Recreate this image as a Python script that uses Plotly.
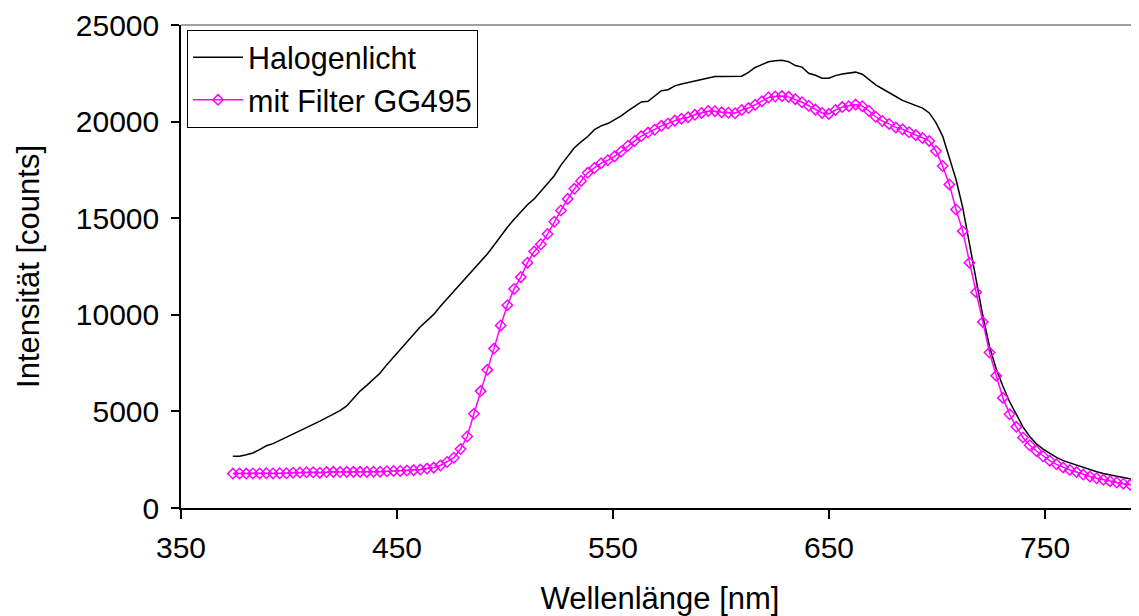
import plotly.graph_objects as go

wavelength = [
    374.0, 377.1, 380.2, 383.3, 386.4, 389.5, 392.6, 395.7, 398.8, 401.9,
    405.0, 408.1, 411.2, 414.3, 417.4, 420.5, 423.6, 426.7, 429.8, 432.9,
    436.0, 439.1, 442.2, 445.3, 448.4, 451.5, 454.6, 457.7, 460.8, 463.9,
    467.0, 470.1, 473.2, 476.3, 479.4, 482.5, 485.6, 488.7, 491.8, 494.9,
    498.0, 501.1, 504.2, 507.3, 510.4, 513.5, 516.6, 519.7, 522.8, 525.9,
    529.0, 532.1, 535.2, 538.3, 541.4, 544.5, 547.6, 550.7, 553.8, 556.9,
    560.0, 563.1, 566.2, 569.3, 572.4, 575.5, 578.6, 581.7, 584.8, 587.9,
    591.0, 594.1, 597.2, 600.3, 603.4, 606.5, 609.6, 612.7, 615.8, 618.9,
    622.0, 625.1, 628.2, 631.3, 634.4, 637.5, 640.6, 643.7, 646.8, 649.9,
    653.0, 656.1, 659.2, 662.3, 665.4, 668.5, 671.6, 674.7, 677.8, 680.9,
    684.0, 687.1, 690.2, 693.3, 696.4, 699.5, 702.6, 705.7, 708.8, 711.9,
    715.0, 718.1, 721.2, 724.3, 727.4, 730.5, 733.6, 736.7, 739.8, 742.9,
    746.0, 749.1, 752.2, 755.3, 758.4, 761.5, 764.6, 767.7, 770.8, 773.9,
    777.0, 780.1, 783.2, 786.3, 789.4, 792.5,
]

halogen = [
    2680, 2680, 2760, 2850, 3020, 3220, 3330, 3490, 3650, 3810,
    3980, 4160, 4330, 4500, 4670, 4850, 5040, 5280, 5650, 6050,
    6350, 6680, 6990, 7420, 7810, 8200, 8580, 8960, 9380, 9700,
    10020, 10440, 10830, 11220, 11600, 11950, 12370, 12770, 13150, 13600,
    14080, 14530, 14950, 15350, 15700, 16000, 16400, 16800, 17200, 17750,
    18200, 18650, 18950, 19230, 19580, 19780, 19900, 20080, 20300, 20550,
    20800, 21020, 21050, 21350, 21600, 21650, 21850, 21950, 22030, 22100,
    22180, 22260, 22330, 22330, 22330, 22330, 22350, 22550, 22800, 22950,
    23100, 23150, 23180, 23100, 22900, 22820, 22500, 22400, 22250, 22250,
    22380, 22460, 22500, 22560, 22450, 22150, 21900, 21700, 21480, 21300,
    21100, 20980, 20860, 20700, 20450, 19950, 19250, 18150, 17000, 15550,
    13700, 11800, 9950, 8350, 7200, 6300, 5500, 4850, 4200, 3700,
    3320, 3050, 2820, 2620, 2450, 2330, 2200, 2090, 1980, 1880,
    1790, 1700, 1640, 1580, 1500, 1440,
]

filter_gg495 = [
    1780, 1790, 1780, 1790, 1790, 1800, 1790, 1800, 1800, 1830,
    1840, 1850, 1850, 1830, 1860, 1870, 1860, 1870, 1870, 1870,
    1870, 1880, 1880, 1900, 1920, 1920, 1940, 1960, 1990, 2040,
    2090, 2200, 2380, 2600, 3050, 3700, 4880, 6050, 7150, 8250,
    9450, 10500, 11340, 11950, 12700, 13280, 13650, 14180, 14820, 15400,
    16000, 16520, 16930, 17350, 17600, 17850, 18000, 18200, 18450, 18750,
    19000, 19250, 19430, 19580, 19780, 19900, 20050, 20150, 20230, 20350,
    20450, 20550, 20540, 20480, 20460, 20430, 20600, 20700, 20870, 21050,
    21250, 21300, 21320, 21280, 21160, 21000, 20820, 20620, 20450, 20400,
    20600, 20750, 20800, 20880, 20800, 20550, 20250, 20030, 19880, 19700,
    19600, 19450, 19300, 19150, 19000, 18480, 17700, 16750, 15450, 14330,
    12700, 11170, 9630, 8050, 6850, 5700, 4850, 4200, 3650, 3250,
    2950, 2680, 2450, 2260, 2100, 1970, 1860, 1730, 1630, 1540,
    1460, 1390, 1320, 1260, 1200, 1160,
]

x_ticks = [350, 450, 550, 650, 750]
y_ticks = [0, 5000, 10000, 15000, 20000, 25000]

FONT = "Liberation Sans, Arial, sans-serif"

fig = go.Figure()
fig.add_trace(go.Scatter(
    x=wavelength, y=halogen, mode="lines", name="Halogenlicht",
    line=dict(color="black", width=1.5),
))
fig.add_trace(go.Scatter(
    x=wavelength, y=filter_gg495, mode="lines+markers", name="mit Filter GG495",
    line=dict(color="#FF00FF", width=1.5),
    marker=dict(symbol="diamond-open", size=8, color="#FF00FF",
                line=dict(color="#FF00FF", width=1.5)),
))

fig.update_layout(
    width=1131, height=608,
    margin=dict(l=173, r=0, t=17, b=108),
    paper_bgcolor="white", plot_bgcolor="white",
    font=dict(family=FONT, size=30, color="black"),
    showlegend=True,
    legend=dict(
        x=0.0063, y=0.99, xanchor="left", yanchor="top",
        bgcolor="white", bordercolor="black", borderwidth=1,
        font=dict(family=FONT, size=30.5, color="black"),
        itemwidth=50, tracegroupgap=0,
    ),
    xaxis=dict(
        range=[350, 793.5], tickvals=x_ticks, ticktext=[str(v) for v in x_ticks],
        showgrid=False, zeroline=False, automargin=False,
        showline=True, linecolor="black", linewidth=1.5,
        ticks="outside", ticklen=9, tickwidth=1.5, tickcolor="black",
        tickfont=dict(family=FONT, size=30), ticklabelstandoff=3,
        title=dict(text="Wellenlänge [nm]", font=dict(family=FONT, size=31), standoff=26),
    ),
    yaxis=dict(
        range=[0, 25000], tickvals=y_ticks, ticktext=[str(v) for v in y_ticks],
        showgrid=False, zeroline=False, automargin=False,
        showline=True, linecolor="black", linewidth=1.5,
        ticks="outside", ticklen=8, tickwidth=1.5, tickcolor="black",
        tickfont=dict(family=FONT, size=30), ticklabelstandoff=6,
        ticklabeloverflow="allow",
        title=dict(text="Intensität [counts]", font=dict(family=FONT, size=31), standoff=27),
    ),
    shapes=[dict(type="line", xref="paper", yref="paper", x0=0, x1=1, y0=1, y1=1,
                 line=dict(color="#808080", width=1.5))],
)

fig.write_html("out.html")
